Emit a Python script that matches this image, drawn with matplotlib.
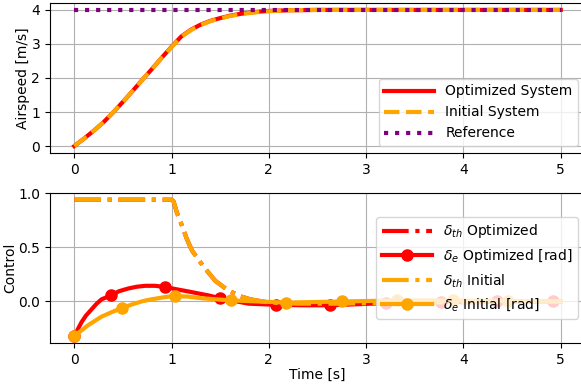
import matplotlib
matplotlib.use("Agg")
import matplotlib.pyplot as plt

# airspeed response
t_air = [0, 0.1, 0.2, 0.3, 0.4, 0.5, 0.6, 0.7, 0.8, 0.9, 1.0, 1.1, 1.2, 1.3,
         1.4, 1.5, 1.6, 1.7, 1.8, 1.9, 2.0, 2.2, 2.5, 3.0, 3.5, 4.0, 4.5, 5.0]
v_opt = [0, 0.22, 0.45, 0.70, 0.99, 1.30, 1.62, 1.95, 2.27, 2.60, 2.92, 3.22,
         3.42, 3.57, 3.68, 3.76, 3.83, 3.88, 3.92, 3.95, 3.97, 3.99, 4.0, 4.0,
         4.0, 4.0, 4.0, 4.0]
v_init = [0, 0.22, 0.45, 0.70, 0.99, 1.30, 1.62, 1.95, 2.27, 2.60, 2.91, 3.21,
          3.41, 3.56, 3.67, 3.75, 3.82, 3.87, 3.91, 3.94, 3.96, 3.99, 4.0, 4.0,
          4.0, 4.0, 4.0, 4.0]
t_ref = [0, 5]
v_ref = [4.0, 4.0]

# throttle
t_th = [0, 1.0, 1.02, 1.055, 1.09, 1.16, 1.21, 1.33, 1.45, 1.57, 1.7, 1.81,
        2.0, 2.3, 2.7, 3.5, 5.0]
th_opt = [0.94, 0.94, 0.925, 0.82, 0.74, 0.57, 0.47, 0.32, 0.19, 0.11, 0.05,
          0.02, -0.01, -0.02, -0.02, -0.01, 0.0]
th_init = [0.94, 0.94, 0.925, 0.82, 0.74, 0.57, 0.47, 0.32, 0.19, 0.11, 0.05,
           0.02, -0.01, -0.02, -0.02, -0.01, 0.0]

# elevator
t_de_opt = [0, 0.04, 0.075, 0.12, 0.18, 0.23, 0.28, 0.377, 0.46, 0.555, 0.64,
            0.73, 0.83, 0.93, 1.05, 1.17, 1.38, 1.5, 1.79, 2.07, 2.35, 2.63,
            3.2, 3.77, 4.34, 4.92, 5.0]
de_opt = [-0.32, -0.25, -0.19, -0.13, -0.07, -0.02, 0.02, 0.056, 0.095, 0.12,
          0.136, 0.145, 0.145, 0.134, 0.113, 0.093, 0.056, 0.03, -0.02, -0.03,
          -0.035, -0.035, -0.015, -0.005, 0.0, 0.0, 0.0]
mk_opt = [0, 7, 13, 17, 19, 21, 22, 23, 24, 25]

t_de_init = [0, 0.07, 0.14, 0.21, 0.28, 0.38, 0.49, 0.59, 0.69, 0.78, 0.86,
             0.95, 1.04, 1.17, 1.31, 1.61, 1.9, 2.18, 2.75, 3.32, 3.89, 4.46,
             5.0]
de_init = [-0.32, -0.27, -0.22, -0.18, -0.14, -0.10, -0.06, -0.028, 0.0, 0.018,
           0.03, 0.043, 0.05, 0.045, 0.03, 0.01, 0.0, -0.01, 0.0, 0.01, 0.01,
           0.005, 0.0]
mk_init = [0, 6, 12, 15, 17, 18, 19, 20, 21]

fig = plt.figure(figsize=(5.81, 3.88), dpi=100)
ax1 = fig.add_axes([0.086, 0.606, 0.921, 0.386])
ax2 = fig.add_axes([0.086, 0.116, 0.921, 0.387])

ax1.plot(t_air, v_opt, color="red", linestyle="-", linewidth=3, label="Optimized System")
ax1.plot(t_air, v_init, color="orange", linestyle="--", linewidth=3, label="Initial System")
ax1.plot(t_ref, v_ref, color="purple", linestyle=":", linewidth=3, label="Reference")
ax1.set_ylabel("Airspeed [m/s]", labelpad=1)
ax1.grid(True)
ax1.legend(loc="lower right", handlelength=3.6)

ax2.plot(t_th, th_opt, color="red", linestyle="-.", linewidth=3,
         label=r"$\delta_{th}$ Optimized")
ax2.plot(t_de_opt, de_opt, color="red", linestyle="-", linewidth=3, marker="o",
         markersize=8, markevery=mk_opt, label=r"$\delta_e$ Optimized [rad]")
ax2.plot(t_th, th_init, color="orange", linestyle="-.", linewidth=3,
         label=r"$\delta_{th}$ Initial")
ax2.plot(t_de_init, de_init, color="orange", linestyle="-", linewidth=3, marker="o",
         markersize=8, markevery=mk_init, label=r"$\delta_e$ Initial [rad]")
ax2.set_xlabel("Time [s]", labelpad=1)
ax2.set_ylabel("Control", labelpad=1)
ax2.grid(True)
ax2.legend(loc="center right", handlelength=3.6)

fig.savefig("out.png", dpi=100)
